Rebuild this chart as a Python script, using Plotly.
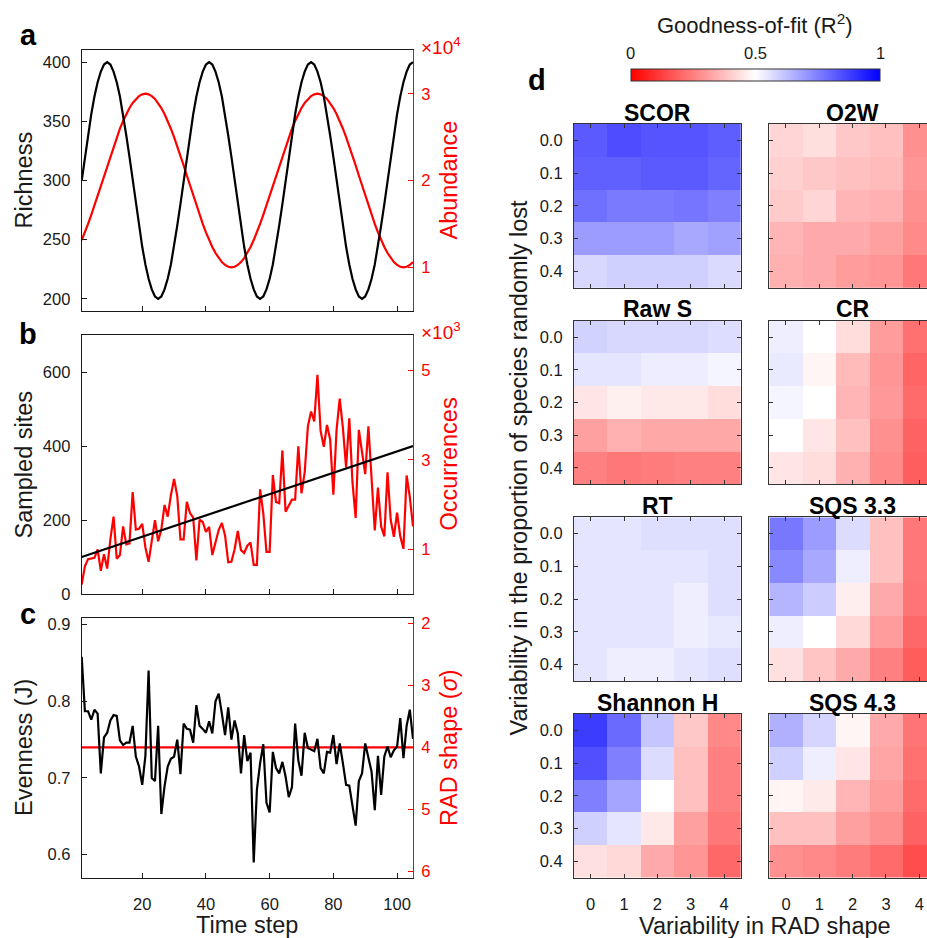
import plotly.graph_objects as go

W, H = 927, 938

# ---------------- data ----------------
time_steps = list(range(1, 106))

richness = [300, 320, 338, 356, 371, 383, 392, 398, 400, 398, 392, 383, 371, 356, 338, 320,
            300, 280, 262, 244, 229, 217, 208, 202, 200, 202, 208, 217, 229, 244, 262, 280,
            300, 320, 338, 356, 371, 383, 392, 398, 400, 398, 392, 383, 371, 356, 338, 320,
            300, 280, 262, 244, 229, 217, 208, 202, 200, 202, 208, 217, 229, 244, 262, 280,
            300, 320, 338, 356, 371, 383, 392, 398, 400, 398, 392, 383, 371, 356, 338, 320,
            300, 280, 262, 244, 229, 217, 208, 202, 200, 202, 208, 217, 229, 244, 262, 280,
            300, 320, 338, 356, 371, 383, 392, 398, 400]

abundance = [13138, 14028, 15000, 16039, 17132, 18264, 19419, 20581, 21736, 22868,
             23961, 25000, 25972, 26862, 27660, 28355, 28936, 29397, 29730, 29932,
             30000, 29932, 29730, 29397, 28936, 28355, 27660, 26862, 25972, 25000,
             23961, 22868, 21736, 20581, 19419, 18264, 17132, 16039, 15000, 14028,
             13138, 12340, 11645, 11064, 10603, 10270, 10068, 10000, 10068, 10270,
             10603, 11064, 11645, 12340,
             13138, 14028, 15000, 16039, 17132, 18264, 19419, 20581, 21736, 22868,
             23961, 25000, 25972, 26862, 27660, 28355, 28936, 29397, 29730, 29932,
             30000, 29932, 29730, 29397, 28936, 28355, 27660, 26862, 25972, 25000,
             23961, 22868, 21736, 20581, 19419, 18264, 17132, 16039, 15000, 14028,
             13138, 12340, 11645, 11064, 10603, 10270, 10068, 10000, 10068, 10270,
             10603]

sites_t = [1, 105]
sampled_sites = [100, 400]

occurrences = [210, 620, 780, 800, 810, 1000, 520, 890, 570, 1220,
               1730, 790, 870, 1510, 1110, 1130, 2280, 1440, 1460, 1570,
               1040, 720, 1230, 1650, 1180, 1440, 1990, 1730, 2210, 2570,
               2190, 1220, 1220, 2060, 1810, 1710, 750, 1660, 1610, 1390,
               1500, 870, 1150, 1430, 1590, 1310, 710, 720, 1000, 1410,
               980, 920, 1080, 1150, 650, 650, 2340, 1810, 940, 940,
               2660, 2060, 2030, 3210, 1840, 1990, 2110, 2110, 3300, 2250,
               2720, 3750, 4080, 3860, 4900, 3640, 3290, 3780, 3450, 2220,
               3670, 4370, 3710, 2830, 3930, 2500, 1700, 3670, 3200, 2680,
               3750, 2540, 1420, 2380, 1510, 1290, 2720, 1660, 1280, 1820,
               1290, 1010, 2650, 2170, 1510]

evenness = [0.858, 0.787, 0.787, 0.776, 0.789, 0.784, 0.706, 0.753, 0.759, 0.775,
            0.782, 0.781, 0.749, 0.743, 0.746, 0.746, 0.768, 0.728, 0.715, 0.691,
            0.729, 0.840, 0.700, 0.696, 0.768, 0.653, 0.689, 0.715, 0.725, 0.728,
            0.750, 0.705, 0.771, 0.764, 0.763, 0.746, 0.795, 0.768, 0.764, 0.759,
            0.774, 0.758, 0.800, 0.810, 0.784, 0.756, 0.792, 0.750, 0.775, 0.758,
            0.706, 0.756, 0.722, 0.733, 0.590, 0.685, 0.719, 0.744, 0.668, 0.655,
            0.734, 0.713, 0.706, 0.721, 0.702, 0.675, 0.688, 0.771, 0.723, 0.703,
            0.759, 0.739, 0.737, 0.735, 0.751, 0.713, 0.706, 0.734, 0.733, 0.756,
            0.718, 0.745, 0.719, 0.691, 0.690, 0.666, 0.638, 0.696, 0.706, 0.745,
            0.726, 0.708, 0.658, 0.729, 0.678, 0.728, 0.741, 0.727, 0.736, 0.741,
            0.778, 0.726, 0.768, 0.789, 0.751]

rad_t = [1, 105]
rad_shape = [4, 4]

time_ticks = [20, 40, 60, 80, 100]

# heatmaps (rows: proportion of species lost, cols: RAD shape variability)
rad_levels = [0, 1, 2, 3, 4]
loss_levels = [0.0, 0.1, 0.2, 0.3, 0.4]

scor = [[0.824, 0.849, 0.833, 0.833, 0.816],
        [0.812, 0.812, 0.824, 0.824, 0.804],
        [0.780, 0.760, 0.760, 0.770, 0.750],
        [0.694, 0.694, 0.694, 0.670, 0.686],
        [0.576, 0.592, 0.592, 0.592, 0.573]]
o2w = [[0.418, 0.435, 0.392, 0.376, 0.282],
       [0.408, 0.392, 0.376, 0.365, 0.292],
       [0.396, 0.418, 0.355, 0.345, 0.282],
       [0.355, 0.333, 0.333, 0.314, 0.270],
       [0.345, 0.333, 0.306, 0.292, 0.235]]
raw_s = [[0.588, 0.576, 0.576, 0.576, 0.567],
         [0.551, 0.551, 0.535, 0.535, 0.520],
         [0.449, 0.471, 0.455, 0.455, 0.433],
         [0.314, 0.345, 0.329, 0.329, 0.329],
         [0.251, 0.235, 0.243, 0.251, 0.251]]
cr = [[0.533, 0.500, 0.433, 0.306, 0.220],
      [0.541, 0.480, 0.365, 0.292, 0.198],
      [0.520, 0.500, 0.355, 0.298, 0.208],
      [0.500, 0.449, 0.376, 0.282, 0.192],
      [0.449, 0.433, 0.345, 0.270, 0.184]]
rt = [[0.551, 0.551, 0.565, 0.565, 0.565],
      [0.551, 0.551, 0.551, 0.551, 0.565],
      [0.551, 0.551, 0.551, 0.533, 0.565],
      [0.551, 0.551, 0.551, 0.533, 0.545],
      [0.551, 0.533, 0.533, 0.551, 0.565]]
sqs_33 = [[0.765, 0.694, 0.569, 0.376, 0.235],
          [0.733, 0.670, 0.533, 0.376, 0.235],
          [0.645, 0.600, 0.467, 0.333, 0.229],
          [0.533, 0.500, 0.424, 0.306, 0.204],
          [0.439, 0.386, 0.333, 0.251, 0.180]]
shannon_h = [[0.882, 0.792, 0.614, 0.392, 0.267],
             [0.843, 0.749, 0.569, 0.376, 0.251],
             [0.749, 0.676, 0.500, 0.376, 0.251],
             [0.592, 0.551, 0.455, 0.314, 0.235],
             [0.439, 0.424, 0.333, 0.292, 0.204]]
sqs_43 = [[0.655, 0.582, 0.480, 0.333, 0.229],
          [0.592, 0.533, 0.449, 0.324, 0.220],
          [0.480, 0.459, 0.355, 0.306, 0.208],
          [0.376, 0.376, 0.314, 0.282, 0.192],
          [0.282, 0.267, 0.243, 0.208, 0.149]]

metric_names = ["SCOR", "O2W", "Raw S", "CR", "RT", "SQS 3.3", "Shannon H", "SQS 4.3"]
metric_values = [scor, o2w, raw_s, cr, rt, sqs_33, shannon_h, sqs_43]

cb_ticks = [0, 0.5, 1]
cb_ticktext = ["0", "0.5", "1"]

# ---------------- styling / layout helpers ----------------
FONT = "Liberation Sans, Arial, Helvetica, sans-serif"
INK = "#1a1a1a"
RED = "#ff0000"
FRAME = "#333333"
TICKF = 16.5
TITLEF = 23.5


def fx(p):
    return p / W


def fy(p):
    return 1 - p / H


fig = go.Figure()
layout = dict(width=W, height=H, margin=dict(l=0, r=0, t=0, b=0),
              paper_bgcolor="white", plot_bgcolor="white", showlegend=False,
              font=dict(family=FONT, color=INK, size=TICKF))
annotations = []

XL, XR = 81.7, 413.0
panel_rows = [(47.0, 311.0), (335.7, 598.3), (622.7, 886.0)]
letter_y = [31.0, 334.5, 619.0]

panel_specs = [
    dict(bx=time_steps, by=richness, rx=time_steps, ry=abundance,
         lrange=[190, 410], lticks=[200, 250, 300, 350, 400],
         rrange=[5000, 35000], rtickvals=[10000, 20000, 30000], rticktext=["1", "2", "3"],
         ltitle="Richness", rtitle="Abundance", exp="×10<sup>4</sup>", letter="a"),
    dict(bx=sites_t, by=sampled_sites, rx=time_steps, ry=occurrences,
         lrange=[0, 700], lticks=[0, 200, 400, 600],
         rrange=[0, 5790], rtickvals=[1000, 3000, 5000], rticktext=["1", "3", "5"],
         ltitle="Sampled sites", rtitle="Occurrences", exp="×10<sup>3</sup>", letter="b"),
    dict(bx=time_steps, by=evenness, rx=rad_t, ry=rad_shape,
         lrange=[0.57, 0.9085], lticks=[0.6, 0.7, 0.8, 0.9],
         rrange=[6.107, 1.91], rtickvals=[2, 3, 4, 5, 6], rticktext=["2", "3", "4", "5", "6"],
         ltitle="Evenness (J)", rtitle="RAD shape (<i>σ</i>)", exp=None, letter="c"),
]

for i, sp in enumerate(panel_specs):
    top, bot = panel_rows[i]
    xa = "x" if i == 0 else f"x{i + 1}"
    yr = f"y{2 * i + 1}" if i > 0 else "y"
    yb = f"y{2 * i + 2}"
    xkey = "xaxis" if i == 0 else f"xaxis{i + 1}"
    yrkey = "yaxis" if i == 0 else f"yaxis{2 * i + 1}"
    ybkey = f"yaxis{2 * i + 2}"
    last = i == 2
    layout[xkey] = dict(domain=[fx(XL), fx(XR)], anchor=yr, range=[1, 105],
                        tickvals=time_ticks, ticks="inside", ticklen=5, tickcolor=INK,
                        showline=True, linecolor=INK, linewidth=1, mirror=True,
                        showticklabels=last, showgrid=False, zeroline=False,
                        tickfont=dict(size=TICKF, color=INK), ticklabelstandoff=11)
    layout[yrkey] = dict(domain=[fy(bot), fy(top)], anchor=xa, side="right",
                         range=sp["rrange"], tickvals=sp["rtickvals"], ticktext=sp["rticktext"],
                         ticks="inside", ticklen=5, tickcolor=RED, showline=True,
                         linecolor=RED, linewidth=1, showgrid=False, zeroline=False,
                         tickfont=dict(size=TICKF, color=RED), ticklabelstandoff=4)
    layout[ybkey] = dict(overlaying=yr, anchor=xa, side="left",
                         range=sp["lrange"], tickvals=sp["lticks"],
                         ticks="inside", ticklen=5, tickcolor=INK, showline=True,
                         linecolor=INK, linewidth=1, showgrid=False, zeroline=False,
                         tickfont=dict(size=TICKF, color=INK), ticklabelstandoff=7)
    fig.add_trace(go.Scatter(x=sp["rx"], y=sp["ry"], xaxis=xa, yaxis=yr, mode="lines",
                             line=dict(color=RED, width=2.2), hoverinfo="skip"))
    fig.add_trace(go.Scatter(x=sp["bx"], y=sp["by"], xaxis=xa, yaxis=yb, mode="lines",
                             line=dict(color="black", width=2.2), hoverinfo="skip"))
    mid = (top + bot) / 2
    annotations.append(dict(text=sp["ltitle"], x=fx(24), y=fy(mid), xref="paper", yref="paper",
                            textangle=-90, showarrow=False, xanchor="center", yanchor="middle",
                            font=dict(size=TITLEF, color=INK)))
    annotations.append(dict(text=sp["rtitle"], x=fx(449), y=fy(mid), xref="paper", yref="paper",
                            textangle=-90, showarrow=False, xanchor="center", yanchor="middle",
                            font=dict(size=TITLEF, color=RED)))
    if sp["exp"]:
        annotations.append(dict(text=sp["exp"], x=fx(419), y=fy(top - 4), xref="paper", yref="paper",
                                showarrow=False, xanchor="left", yanchor="middle",
                                font=dict(size=19, color=RED)))
    annotations.append(dict(text=f"<b>{sp['letter']}</b>", x=fx(28), y=fy(letter_y[i]),
                            xref="paper", yref="paper", showarrow=False,
                            xanchor="center", yanchor="middle", font=dict(size=29, color="black")))

annotations.append(dict(text="Time step", x=fx((XL + XR) / 2), y=fy(934), xref="paper", yref="paper",
                        showarrow=False, xanchor="center", yanchor="middle",
                        font=dict(size=TITLEF, color=INK)))

# ---------------- heatmaps ----------------
colorscale = [[0.0, "rgb(255,0,0)"], [0.5, "rgb(255,255,255)"], [1.0, "rgb(0,0,255)"]]
HX = [(574.0, 740.7), (769.3, 936.0)]
HT0, HSTEP, HH = 121.7, 199.4, 166.0
CELL = (HX[0][1] - HX[0][0]) / 5

cb_x0, cb_x1, cb_top, cb_bot = 630.7, 880.0, 66.7, 79.0

for k, (name, z) in enumerate(zip(metric_names, metric_values)):
    row, col = divmod(k, 2)
    top = HT0 + HSTEP * row
    bot = top + HH
    x0, x1 = HX[col]
    xrange_ = [-0.5, 4.5]
    dom_x1 = x1
    if x1 > W:
        xrange_ = [-0.5, -0.5 + (W - x0) / CELL]
        dom_x1 = W
    ax_n = 4 + k
    ay_n = 7 + k
    xa, ya = f"x{ax_n}", f"y{ay_n}"
    layout[f"xaxis{ax_n}"] = dict(domain=[fx(x0), fx(dom_x1)], anchor=ya, range=xrange_,
                                  tickvals=rad_levels, ticks="inside", ticklen=4, tickcolor=FRAME,
                                  showline=True, linecolor=FRAME, linewidth=1.2, mirror="allticks",
                                  showticklabels=(row == 3), showgrid=False, zeroline=False,
                                  tickfont=dict(size=TICKF, color=INK), ticklabelstandoff=11)
    layout[f"yaxis{ay_n}"] = dict(domain=[fy(bot), fy(top)], anchor=xa, range=[0.45, -0.05],
                                  tickvals=loss_levels, tickformat=".1f", ticks="inside", ticklen=4,
                                  tickcolor=FRAME, showline=True, linecolor=FRAME, linewidth=1.2,
                                  mirror=("allticks" if col == 0 else False),
                                  showticklabels=(col == 0), showgrid=False, zeroline=False,
                                  tickfont=dict(size=TICKF, color=INK), ticklabelstandoff=7)
    hm = dict(z=z, x=rad_levels, y=loss_levels, xaxis=xa, yaxis=ya, zmin=0, zmax=1,
              colorscale=colorscale, hoverinfo="skip", showscale=(k == 0))
    if k == 0:
        hm["colorbar"] = dict(orientation="h", x=fx((cb_x0 + cb_x1) / 2), xanchor="center",
                              y=fy(cb_bot), yanchor="bottom", len=(cb_x1 - cb_x0) / W,
                              lenmode="fraction", thickness=cb_bot - cb_top, thicknessmode="pixels",
                              outlinewidth=1, outlinecolor=FRAME, ticks="", showticklabels=False,
                              xpad=0, ypad=0, borderwidth=0)
    fig.add_trace(go.Heatmap(**hm))
    annotations.append(dict(text=f"<b>{name}</b>", x=fx((x0 + x1) / 2), y=fy(top - 11.5),
                            xref="paper", yref="paper", showarrow=False,
                            xanchor="center", yanchor="middle", font=dict(size=23, color="black")))

for v, t in zip(cb_ticks, cb_ticktext):
    annotations.append(dict(text=t, x=fx(cb_x0 + v * (cb_x1 - cb_x0)), y=fy(50), xref="paper",
                            yref="paper", showarrow=False, xanchor="center", yanchor="middle",
                            font=dict(size=TICKF, color=INK)))
annotations.append(dict(text="Goodness-of-fit (R<sup>2</sup>)", x=fx(755), y=fy(20), xref="paper",
                        yref="paper", showarrow=False, xanchor="center", yanchor="middle",
                        font=dict(size=22, color=INK)))
annotations.append(dict(text="<b>d</b>", x=fx(537), y=fy(77.5), xref="paper", yref="paper",
                        showarrow=False, xanchor="center", yanchor="middle",
                        font=dict(size=29, color="black")))
annotations.append(dict(text="Variability in the proportion of species randomly lost", x=fx(519),
                        y=fy(470), xref="paper", yref="paper", textangle=-90, showarrow=False,
                        xanchor="center", yanchor="middle", font=dict(size=TITLEF, color=INK)))
annotations.append(dict(text="Variability in RAD shape", x=fx(765), y=fy(935), xref="paper",
                        yref="paper", showarrow=False, xanchor="center", yanchor="middle",
                        font=dict(size=TITLEF, color=INK)))

layout["annotations"] = annotations
fig.update_layout(**layout)
fig.write_html("out.html", config={"displayModeBar": False},
               post_script="document.body.style.margin='0px';")
